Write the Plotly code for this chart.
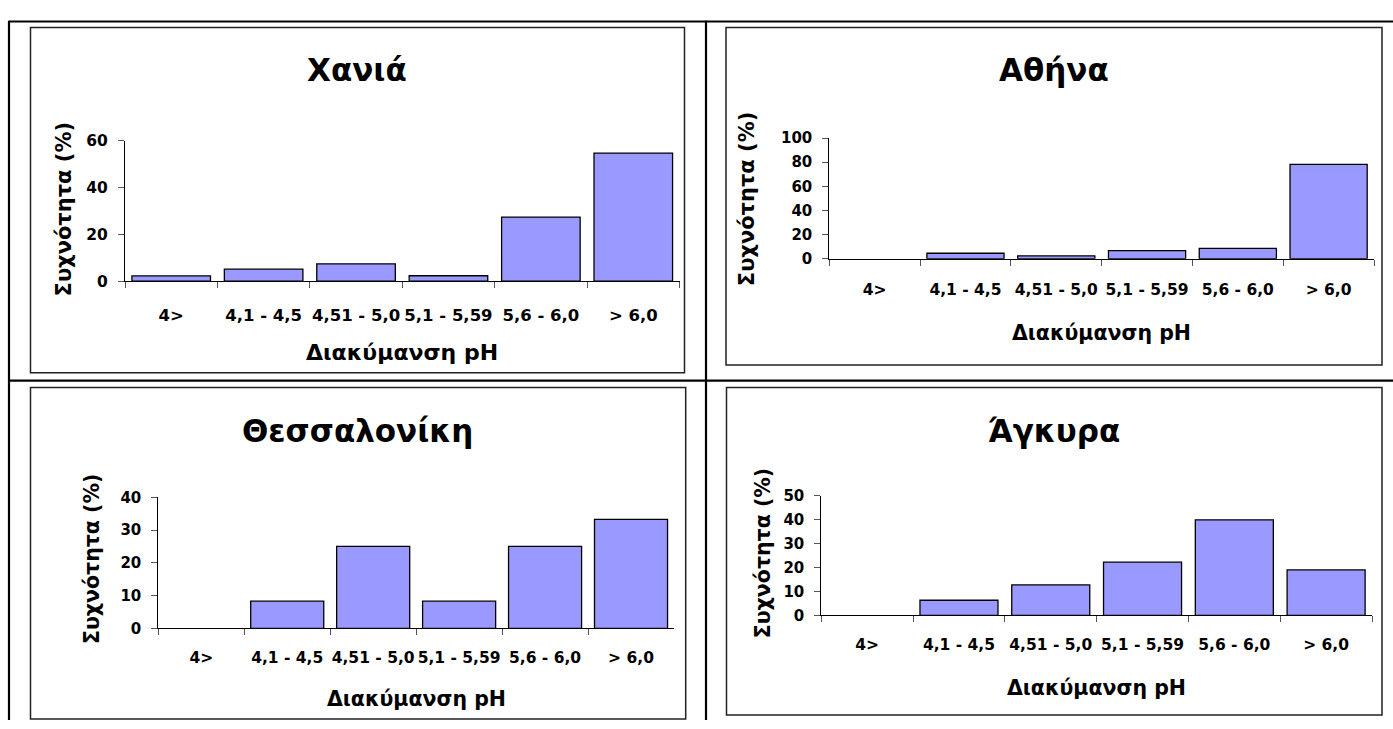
import plotly.graph_objects as go

# pH classes (x categories) and frequency (%) per city
categories = ["4>", "4,1 - 4,5", "4,51 - 5,0", "5,1 - 5,59", "5,6 - 6,0", "> 6,0"]
chania = [2.2, 5.1, 7.4, 2.3, 27.4, 54.8]
athina = [0, 4.5, 2.4, 6.6, 8.5, 78.2]
thessaloniki = [0, 8.3, 25.0, 8.3, 25.0, 33.3]
ankara = [0, 6.3, 12.7, 22.2, 39.9, 19.0]

cities = ["Χανιά", "Αθήνα", "Θεσσαλονίκη", "Άγκυρα"]
series = [chania, athina, thessaloniki, ankara]
y_max = [60, 100, 40, 50]
y_step = [20, 20, 10, 10]

x_title = "Διακύμανση pH"
y_title = "Συχνότητα (%)"

W, H = 1393, 729
FONT = "DejaVu Sans"


def fx(x):
    return x / W


def fy(y):
    return 1 - y / H


# plot-area rectangles in pixels: left, right, top, bottom
plot_px = [
    (125, 679.5, 135.3, 279),
    (829.3, 1374, 132.3, 256),
    (158.3, 674, 500.7, 635),
    (821.3, 1372, 499, 621.7),
]
# chart frames in pixels: left, right, top, bottom
frame_px = [
    (30.5, 684.5, 19, 373),
    (726, 1382, 19, 365),
    (30.5, 685.7, 388, 728),
    (726.5, 1382, 388, 724),
]
title_pos = [(357, 62.5), (1054, 62.5), (358, 433), (1054, 433)]
xtitle_pos = [(402, 352.5), (1101.5, 332.5), (416, 707), (1096.5, 696.7)]
ytitle_pos = [(63.5, 205), (747, 195), (92, 564), (763, 558)]
xtick_size = [16.5, 15.5, 15.5, 15.5]
ytick_size = [15.5, 15, 15, 15]
xtitle_size = [22, 20.5, 20.5, 20.5]
ytitle_size = [21, 21, 20.5, 20.5]
xlabel_standoff = [19, 17, 15, 15]

fig = go.Figure()
layout = dict(
    width=W,
    height=H,
    margin=dict(l=0, r=0, t=0, b=0),
    paper_bgcolor="white",
    plot_bgcolor="white",
    showlegend=False,
    bargap=0.15,
    font=dict(family=FONT, color="black"),
)

annotations = []
shapes = []

for i, (name, vals) in enumerate(zip(cities, series)):
    n = "" if i == 0 else str(i + 1)
    fig.add_trace(
        go.Bar(
            x=categories,
            y=vals,
            xaxis="x" + n,
            yaxis="y" + n,
            marker=dict(
                color="#9999FF",
                # empty classes get no outline so the axis line stays clean
                line=dict(color="black", width=[1.3 if v > 0 else 0 for v in vals]),
            ),
            hoverinfo="x+y",
        )
    )
    l, r, t, b = plot_px[i]
    layout["xaxis" + n] = dict(
        domain=[fx(l), fx(r)],
        anchor="y" + n,
        type="category",
        range=[-0.5, 5.5],
        showline=True,
        linecolor="black",
        linewidth=1,
        ticks="outside",
        tickson="boundaries",
        ticklen=6,
        tickcolor="#555555",
        tickwidth=1,
        tickangle=0,
        showgrid=False,
        zeroline=False,
        tickfont=dict(family=FONT, size=xtick_size[i], color="black", weight="bold"),
        ticklabelstandoff=xlabel_standoff[i],
        fixedrange=True,
    )
    layout["yaxis" + n] = dict(
        domain=[fy(b), fy(t)],
        anchor="x" + n,
        range=[0, y_max[i]],
        tickmode="linear",
        tick0=0,
        dtick=y_step[i],
        showline=True,
        linecolor="black",
        linewidth=1,
        ticks="outside",
        ticklen=6,
        tickcolor="#555555",
        tickwidth=1,
        showgrid=False,
        zeroline=False,
        tickfont=dict(family=FONT, size=ytick_size[i], color="black", weight="bold"),
        ticklabelstandoff=7,
        fixedrange=True,
    )

    # chart frame
    fl, fr, ft, fb = frame_px[i]
    shapes.append(dict(
        type="rect", xref="paper", yref="paper",
        x0=fx(fl), x1=fx(fr), y0=fy(fb), y1=fy(ft),
        line=dict(color="#222222", width=1.5), fillcolor="rgba(0,0,0,0)", layer="below",
    ))

    tx, ty = title_pos[i]
    annotations.append(dict(
        text=f"<b>{name}</b>", xref="paper", yref="paper",
        x=fx(tx), y=fy(ty), xanchor="center", yanchor="middle", showarrow=False,
        font=dict(family=FONT, size=31, color="black"),
    ))
    ax, ay = xtitle_pos[i]
    annotations.append(dict(
        text=f"<b>{x_title}</b>", xref="paper", yref="paper",
        x=fx(ax), y=fy(ay), xanchor="center", yanchor="middle", showarrow=False,
        font=dict(family=FONT, size=xtitle_size[i], color="black"),
    ))
    vx, vy = ytitle_pos[i]
    annotations.append(dict(
        text=f"<b>{y_title}</b>", xref="paper", yref="paper",
        x=fx(vx), y=fy(vy), xanchor="center", yanchor="middle", showarrow=False,
        textangle=-90,
        font=dict(family=FONT, size=ytitle_size[i], color="black"),
    ))

# table grid lines enclosing the four charts
grid_lines = [
    (9, 12.8, W, 12.8),
    (9, 12, 9, H),
    (706, 12, 706, H),
    (9, 381, W, 381),
]
for x0, y0, x1, y1 in grid_lines:
    shapes.append(dict(
        type="line", xref="paper", yref="paper",
        x0=fx(x0), y0=fy(y0), x1=fx(x1), y1=fy(y1),
        line=dict(color="black", width=2.2),
    ))

layout["annotations"] = annotations
layout["shapes"] = shapes
fig.update_layout(**layout)

fig.write_html("out.html")
